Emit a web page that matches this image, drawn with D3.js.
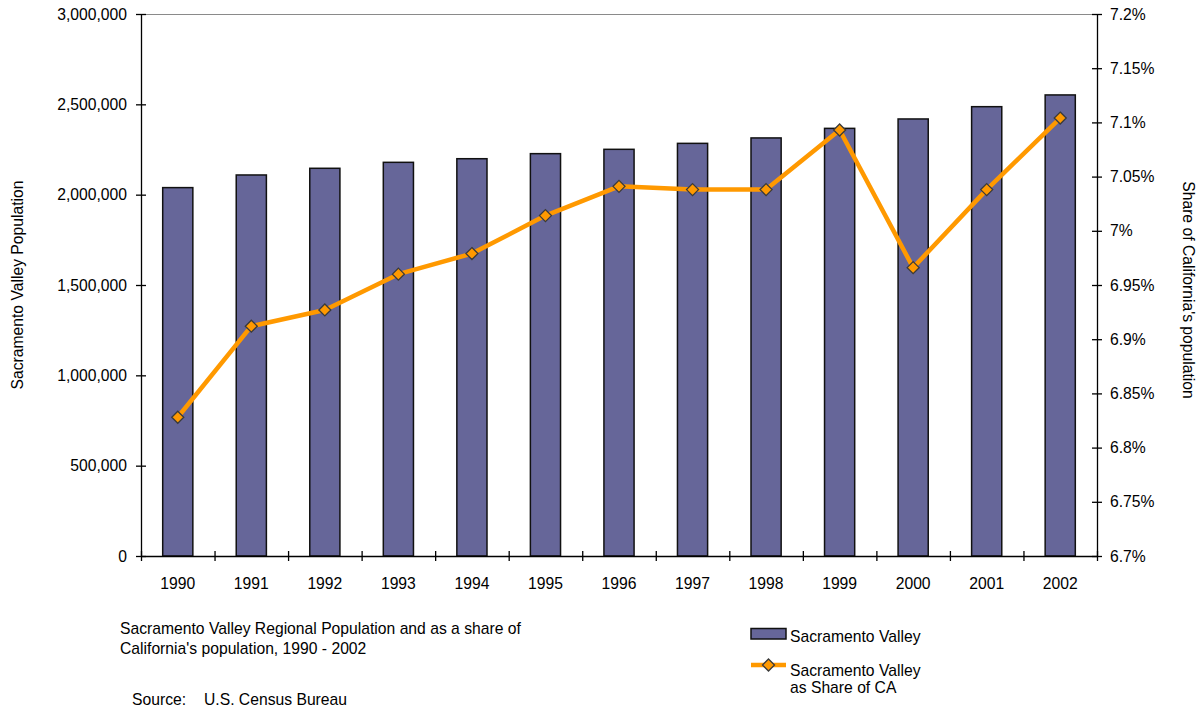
<!DOCTYPE html>
<html>
<head>
<meta charset="utf-8">
<script src="https://cdn.jsdelivr.net/npm/d3@7"></script>
<style>
  html, body { margin: 0; padding: 0; background: #fff; }
  svg { display: block; font-family: "Liberation Sans", Arial, sans-serif; }
</style>
</head>
<body>
<svg id="chart" width="1199" height="709"></svg>
<script>
// Sacramento Valley population and share of California, 1990-2002
const years = ["1990","1991","1992","1993","1994","1995","1996","1997","1998","1999","2000","2001","2002"];
const population = [2039000, 2109000, 2146000, 2179000, 2199000, 2227000, 2251000, 2284000, 2314000, 2367000, 2419000, 2487000, 2552000];
const sharePct = [6.828, 6.912, 6.927, 6.960, 6.979, 7.014, 7.041, 7.038, 7.038, 7.093, 6.966, 7.038, 7.104];
const popTicks = [0, 500000, 1000000, 1500000, 2000000, 2500000, 3000000];
const shareTicks = [6.7, 6.75, 6.8, 6.85, 6.9, 6.95, 7.0, 7.05, 7.1, 7.15, 7.2];

const FS = 15.7;
const svg = d3.select("#chart");
const plotLeft = 141, plotRight = 1097, plotTop = 14, plotBottom = 556;

const x = d3.scaleBand().domain(years).range([plotLeft, plotRight]).paddingInner(0.59).paddingOuter(0.295);
const xCenter = d => x(d) + x.bandwidth() / 2;
const yPop = d3.scaleLinear().domain([0, 3000000]).range([plotBottom, plotTop]);
const yShare = d3.scaleLinear().domain([6.7, 7.2]).range([plotBottom, plotTop]);

// top border of plot area
svg.append("line")
  .attr("x1", plotLeft).attr("x2", plotRight).attr("y1", plotTop + 0.5).attr("y2", plotTop + 0.5)
  .attr("stroke", "#8a8a8a").attr("stroke-width", 1.2);

// bars
svg.append("g").selectAll("rect").data(years).join("rect")
  .attr("x", d => x(d))
  .attr("y", (d, i) => yPop(population[i]))
  .attr("width", x.bandwidth())
  .attr("height", (d, i) => plotBottom - yPop(population[i]))
  .attr("fill", "#666699")
  .attr("stroke", "#111")
  .attr("stroke-width", 1.5);

const fmt = d3.format(",");

// left axis
const gl = svg.append("g").attr("transform", `translate(${plotLeft},0)`)
  .call(d3.axisLeft(yPop).tickValues(popTicks).tickFormat(fmt).tickSizeInner(5).tickSizeOuter(0).tickPadding(9));
// right axis
const gr = svg.append("g").attr("transform", `translate(${plotRight},0)`)
  .call(d3.axisRight(yShare).tickValues(shareTicks).tickFormat(d => (+d.toFixed(2)) + "%").tickSizeInner(5).tickSizeOuter(0).tickPadding(8));
// bottom axis: ticks at category boundaries
const boundaryScale = d3.scaleLinear().domain([0, years.length]).range([plotLeft, plotRight]);
const gb = svg.append("g").attr("transform", `translate(0,${plotBottom})`)
  .call(d3.axisBottom(boundaryScale).tickValues(d3.range(0, years.length + 1)).tickFormat("").tickSizeInner(5).tickSizeOuter(0));

// ticks cross the axis lines
gl.selectAll(".tick line").attr("x1", 5).attr("x2", -5);
gr.selectAll(".tick line").attr("x1", -5).attr("x2", 5);
gb.selectAll(".tick line").attr("y1", -5).attr("y2", 5);

[gl, gr, gb].forEach(g => {
  g.selectAll(".domain").attr("stroke", "#000").attr("stroke-width", 1.3);
  g.selectAll(".tick line").attr("stroke", "#000").attr("stroke-width", 1.3);
  g.selectAll("text").attr("font-size", FS).attr("fill", "#000")
    .attr("font-family", "Liberation Sans, Arial, sans-serif");
});

// year labels
svg.append("g").selectAll("text").data(years).join("text")
  .attr("x", d => xCenter(d))
  .attr("y", 589)
  .attr("text-anchor", "middle")
  .attr("font-size", FS)
  .text(d => d);

// share line
const line = d3.line().x((d, i) => xCenter(years[i])).y(d => yShare(d));
svg.append("path").datum(sharePct)
  .attr("d", line)
  .attr("fill", "none")
  .attr("stroke", "#FF9900")
  .attr("stroke-width", 4.5)
  .attr("stroke-linejoin", "round");

const diamondPath = "M0,-6L6,0L0,6L-6,0Z";
svg.append("g").selectAll("path").data(sharePct).join("path")
  .attr("transform", (d, i) => `translate(${xCenter(years[i])},${yShare(d)})`)
  .attr("d", diamondPath)
  .attr("fill", "#FF9900")
  .attr("stroke", "#3a3a3a")
  .attr("stroke-width", 1.3);

// axis titles
svg.append("text")
  .attr("transform", "translate(23,285) rotate(-90)")
  .attr("text-anchor", "middle")
  .attr("font-size", FS)
  .text("Sacramento Valley Population");
svg.append("text")
  .attr("transform", "translate(1183,290) rotate(90)")
  .attr("text-anchor", "middle")
  .attr("font-size", FS)
  .text("Share of California's population");

// caption
const caption = svg.append("text").attr("x", 120).attr("font-size", FS);
caption.append("tspan").attr("x", 120).attr("y", 634).text("Sacramento Valley Regional Population and as a share of");
caption.append("tspan").attr("x", 120).attr("y", 654).text("California's population, 1990 - 2002");
svg.append("text").attr("x", 132).attr("y", 705).attr("font-size", FS).text("Source:");
svg.append("text").attr("x", 204).attr("y", 705).attr("font-size", FS).text("U.S. Census Bureau");

// legend
svg.append("rect").attr("x", 751).attr("y", 628.5).attr("width", 35).attr("height", 10.5)
  .attr("fill", "#666699").attr("stroke", "#111").attr("stroke-width", 1.5);
svg.append("text").attr("x", 790).attr("y", 642).attr("font-size", FS).text("Sacramento Valley");
svg.append("line").attr("x1", 751).attr("x2", 786).attr("y1", 665).attr("y2", 665)
  .attr("stroke", "#FF9900").attr("stroke-width", 4.5);
svg.append("path").attr("transform", "translate(768.5,665)").attr("d", diamondPath)
  .attr("fill", "#FF9900").attr("stroke", "#3a3a3a").attr("stroke-width", 1.3);
const lg2 = svg.append("text").attr("font-size", FS);
lg2.append("tspan").attr("x", 790).attr("y", 676).text("Sacramento Valley");
lg2.append("tspan").attr("x", 790).attr("y", 693).text("as Share of CA");
</script>
</body>
</html>
